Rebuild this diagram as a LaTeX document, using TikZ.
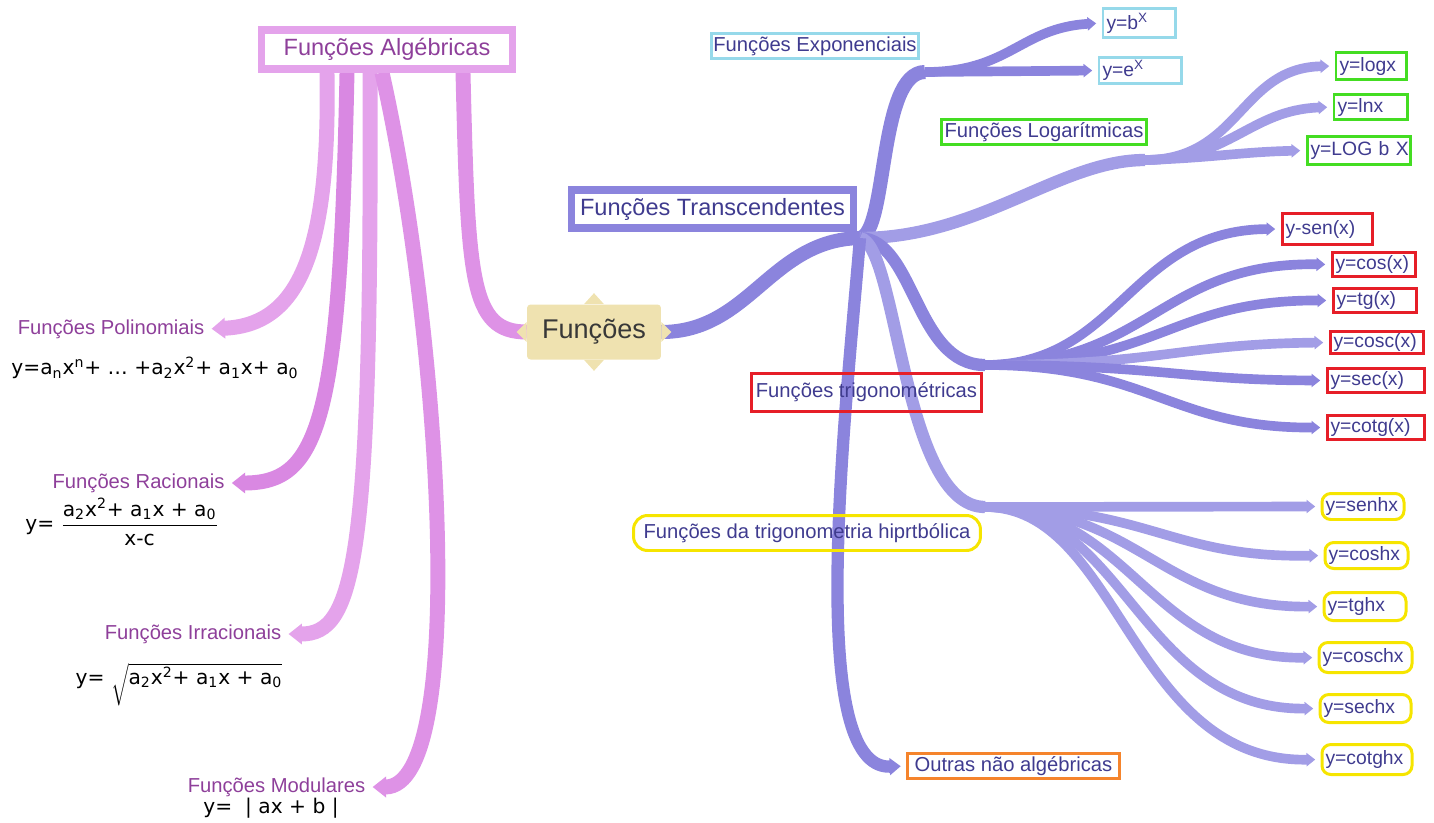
\documentclass[tikz,border=0pt]{standalone}
\usepackage{fontspec}
\setmainfont{Liberation Sans}
\newfontfamily\formfont{DejaVu Sans}
\usetikzlibrary{arrows.meta,calc,backgrounds}

\definecolor{pinklight}{HTML}{E4A3EB}
\definecolor{pinkmid}{HTML}{DE92E6}
\definecolor{pinkdark}{HTML}{D988E2}
\definecolor{algink}{HTML}{8E3F9A}
\definecolor{violetmain}{HTML}{8B84DD}
\definecolor{violetlight}{HTML}{A29DE6}
\definecolor{trink}{HTML}{3F3B8F}
\definecolor{hubfill}{HTML}{EFE2B0}
\definecolor{expblue}{HTML}{96D9EA}
\definecolor{loggreen}{HTML}{44DD22}
\definecolor{trigred}{HTML}{E61E28}
\definecolor{hypyellow}{HTML}{F6E500}
\definecolor{otherorange}{HTML}{F5842C}

\begin{document}
\begin{tikzpicture}[
    x=0.02cm, y=-0.02cm,
    trunk/.style={
        line width=#1,
        line cap=butt
    },
    twig/.style={
        line width=#1,
        line cap=butt,
        shorten >=3pt,
        -{Triangle[width=0pt 1.35, length=0pt 0.9]}
    },
    hub/.style={
        rectangle,
        rounded corners=2pt,
        fill=hubfill,
        minimum width=2.68cm,
        minimum height=1.1cm,
        font=\fontsize{15.4}{18}\selectfont,
        text=black!78
    },
    mainbox/.style={
        rectangle,
        draw=#1,
        line width=4pt,
        font=\fontsize{13.4}{16}\selectfont,
        inner sep=0pt
    },
    catbox/.style={
        rectangle,
        draw=#1,
        line width=1.7pt,
        font=\fontsize{11.5}{14}\selectfont,
        text=trink,
        inner sep=0pt
    },
    leaf/.style={
        rectangle,
        draw=#1,
        line width=1.7pt,
        font=\fontsize{11}{13}\selectfont,
        text=trink,
        inner xsep=2pt,
        inner ysep=0pt,
        align=left
    },
    catlabel/.style={
        font=\fontsize{11.5}{14}\selectfont,
        text=algink,
        inner sep=1pt
    },
    formula/.style={
        font=\formfont\fontsize{11.5}{14}\selectfont,
        text=black,
        inner sep=0pt
    }
]
\useasboundingbox (0,0) rectangle (1434,822);

% --- Centre and the two main groups ---
\node[hub] (funcoes) at (594,332) {Funções};
\node[mainbox=pinklight, text=algink, minimum width=5.04cm, minimum height=0.78cm] (alg) at (387,49.5) {Funções Algébricas};
\node[mainbox=violetmain, text=trink, minimum width=5.66cm, minimum height=0.76cm] (transc) at (712.5,209) {Funções Transcendentes};

\coordinate (hub)   at (860,238);
\coordinate (expj)  at (925,72);
\coordinate (logj)  at (1145,160);
\coordinate (trigj) at (985,365);
\coordinate (hypj)  at (985,507);

% star points of the centre node
\fill[hubfill] (funcoes.north) ++(-10,0) -- ++(10,-11) -- ++(10,11) -- cycle;
\fill[hubfill] (funcoes.south) ++(-10,0) -- ++(10,11) -- ++(10,-11) -- cycle;
\fill[hubfill] (funcoes.west) ++(0,-10) -- ++(-10,10) -- ++(10,10) -- cycle;
\fill[hubfill] (funcoes.east) ++(0,-10) -- ++(10,10) -- ++(-10,10) -- cycle;

% --- Algebraic side (left) ---
\node[catlabel] (poli) at (111,329) {Funções Polinomiais};
\node[formula]  (polif) at (155,368) {y=a\textsubscript{n}x\textsuperscript{n}+ \dots\ +a\textsubscript{2}x\textsuperscript{2}+ a\textsubscript{1}x+ a\textsubscript{0}};

\node[catlabel] (rac) at (138.5,483) {Funções Racionais};
\node[formula]  (racf) at (122,522) {y= $\displaystyle\frac{\mbox{a\textsubscript{2}x\textsuperscript{2}+ a\textsubscript{1}x + a\textsubscript{0}}}{\mbox{x-c}}$};

\node[catlabel] (irr) at (193,634) {Funções Irracionais};
\node[formula]  (irrf) at (179,685) {y= $\sqrt{\mbox{\rule[-12pt]{0pt}{12pt}a\textsubscript{2}x\textsuperscript{2}+ a\textsubscript{1}x + a\textsubscript{0}}}$};

\node[catlabel] (mod) at (276.5,787) {Funções Modulares};
\node[formula]  (modf) at (271,808) {y=\ \ |\ ax + b\ |};

\begin{scope}[on background layer]
\draw[trunk=8.5pt, pinkmid] ($(alg.south)+(76,0)$) .. controls (468,280) and (470,332) .. (funcoes.west);
\draw[twig=8.5pt, pinklight] ($(alg.south)+(-60,0)$) .. controls (330,250) and (300,325) .. (poli.east);
\draw[twig=8.5pt, pinkdark] ($(alg.south)+(-40,0)$) .. controls (340,420) and (320,483) .. (rac.east);
\draw[twig=8.5pt, pinklight] ($(alg.south)+(-17,0)$) .. controls (372,560) and (355,634) .. (irr.east);
\draw[twig=8.5pt, pinkmid] ($(alg.south)+(-5,0)$) .. controls (440,330) and (470,787) .. (mod.east);
\end{scope}

% --- Transcendental side (right) ---
\node[catbox=expblue, minimum width=4.14cm, minimum height=0.5cm] (exp) at (815,46) {Funções Exponenciais};
\node[catbox=loggreen, minimum width=4.1cm, minimum height=0.5cm] (log) at (1044,132) {Funções Logarítmicas};
\node[catbox=trigred, minimum width=4.6cm, minimum height=0.76cm] (trig) at (866.5,392.5) {Funções trigonométricas};
\node[catbox=hypyellow, rounded corners=8pt, minimum width=6.94cm, minimum height=0.7cm] (hyp) at (807,533) {Funções da trigonometria hiprtbólica};
\node[catbox=otherorange, minimum width=4.24cm, minimum height=0.5cm] (outras) at (1013.5,766) {Outras não algébricas};

\node[leaf=expblue, text width=1.3cm, minimum height=0.58cm] (bx) at (1139,23) {y=b\textsuperscript{X}};
\node[leaf=expblue, text width=1.5cm, minimum height=0.52cm] (ex) at (1140,70.5) {y=e\textsuperscript{X}};

\node[leaf=loggreen, text width=1.26cm, minimum height=0.54cm] (logx) at (1371,66) {y=logx};
\node[leaf=loggreen, text width=1.32cm, minimum height=0.5cm] (lnx) at (1370.5,107) {y=lnx};
\node[leaf=loggreen, text width=1.92cm, minimum height=0.56cm] (logb) at (1358.5,150.5) {y=LOG~b~X};

\node[leaf=trigred, text width=1.66cm, minimum height=0.62cm] (sen) at (1327,229) {y-sen(x)};
\node[leaf=trigred, text width=1.52cm, minimum height=0.48cm] (cos) at (1373.5,264.5) {y=cos(x)};
\node[leaf=trigred, text width=1.52cm, minimum height=0.48cm] (tg) at (1374.5,300.5) {y=tg(x)};
\node[leaf=trigred, text width=1.72cm, minimum height=0.44cm] (cosc) at (1376.5,342.5) {y=cosc(x)};
\node[leaf=trigred, text width=1.8cm, minimum height=0.48cm] (sec) at (1375.5,380.5) {y=sec(x)};
\node[leaf=trigred, text width=1.8cm, minimum height=0.48cm] (cotg) at (1375.5,427.5) {y=cotg(x)};

\node[leaf=hypyellow, rounded corners=5pt, text width=1.5cm, minimum height=0.52cm] (senh) at (1363,506.5) {y=senhx};
\node[leaf=hypyellow, rounded corners=5pt, text width=1.52cm, minimum height=0.52cm] (cosh) at (1366.5,555.5) {y=coshx};
\node[leaf=hypyellow, rounded corners=5pt, text width=1.5cm, minimum height=0.56cm] (tgh) at (1365,606.5) {y=tghx};
\node[leaf=hypyellow, rounded corners=5pt, text width=1.72cm, minimum height=0.6cm] (cosch) at (1365.5,657.5) {y=coschx};
\node[leaf=hypyellow, rounded corners=5pt, text width=1.68cm, minimum height=0.56cm] (sech) at (1365.5,708.5) {y=sechx};
\node[leaf=hypyellow, rounded corners=5pt, text width=1.66cm, minimum height=0.6cm] (cotgh) at (1367,759.5) {y=cotghx};

\begin{scope}[on background layer]
% trunks from the hub
\draw[trunk=8pt, violetmain] (funcoes.east) .. controls (750,332) and (770,240) .. (hub);
\draw[trunk=8pt, violetmain] (hub) .. controls (888,232) and (878,72) .. (expj);
\draw[trunk=7pt, violetlight] (hub) .. controls (980,238) and (1060,160) .. (logj);
\draw[trunk=7pt, violetmain] (hub) .. controls (915,240) and (915,365) .. (trigj);
\draw[trunk=7pt, violetlight] (hub) .. controls (898,245) and (902,507) .. (hypj);
\draw[twig=7pt, violetmain] (hub) .. controls (845,420) and (805,770) .. (outras.west);

% twigs to the leaves
\draw[twig=5.5pt, violetmain] (expj) .. controls (1010,72) and (1020,28) .. (bx.west);
\draw[twig=5.5pt, violetmain] (expj) -- (ex.west);

\draw[twig=5.5pt, violetlight] (logj) .. controls (1240,160) and (1240,68) .. (logx.west);
\draw[twig=5.5pt, violetlight] (logj) .. controls (1230,160) and (1250,110) .. (lnx.west);
\draw[twig=5.5pt, violetlight] (logj) .. controls (1210,158) and (1240,152) .. (logb.west);

\draw[twig=5.5pt, violetmain] (trigj) .. controls (1120,365) and (1130,230) .. (sen.west);
\draw[twig=5.5pt, violetmain] (trigj) .. controls (1150,365) and (1160,262) .. (cos.west);
\draw[twig=5.5pt, violetmain] (trigj) .. controls (1160,365) and (1170,300) .. (tg.west);
\draw[twig=5.5pt, violetlight] (trigj) .. controls (1160,365) and (1180,344) .. (cosc.west);
\draw[twig=5.5pt, violetmain] (trigj) .. controls (1160,365) and (1180,380) .. (sec.west);
\draw[twig=5.5pt, violetmain] (trigj) .. controls (1150,365) and (1170,428) .. (cotg.west);

\draw[twig=5.5pt, violetlight] (hypj) -- (senh.west);
\draw[twig=5.5pt, violetlight] (hypj) .. controls (1150,507) and (1170,558) .. (cosh.west);
\draw[twig=5.5pt, violetlight] (hypj) .. controls (1140,507) and (1160,608) .. (tgh.west);
\draw[twig=5.5pt, violetlight] (hypj) .. controls (1130,507) and (1150,660) .. (cosch.west);
\draw[twig=5.5pt, violetlight] (hypj) .. controls (1125,507) and (1140,710) .. (sech.west);
\draw[twig=5.5pt, violetlight] (hypj) .. controls (1120,507) and (1130,762) .. (cotgh.west);
\end{scope}

\end{tikzpicture}
\end{document}
